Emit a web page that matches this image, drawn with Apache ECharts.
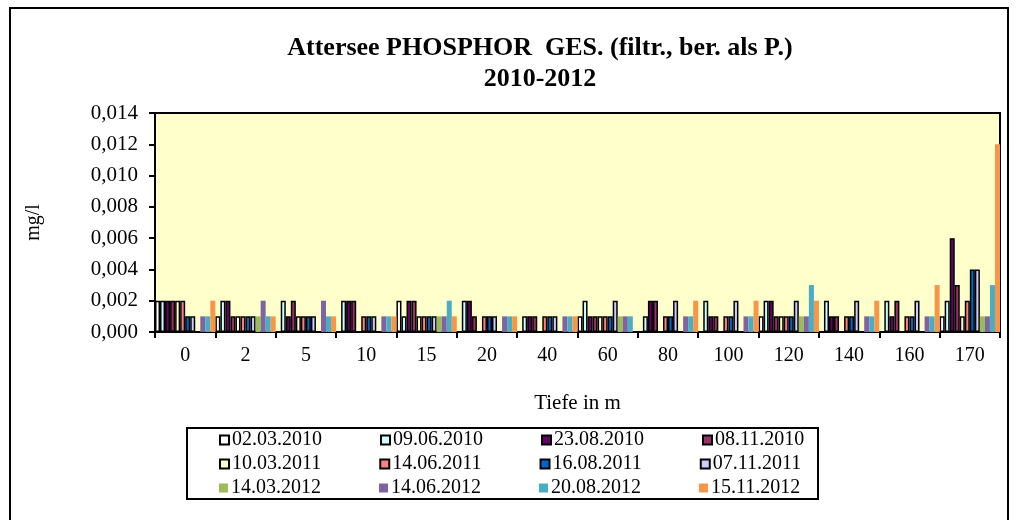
<!DOCTYPE html>
<html lang="de">
<head>
    <meta charset="UTF-8">
    <title>Attersee Phosphor</title>
    <script type="text/javascript" src="https://cdn.jsdelivr.net/npm/echarts@6/dist/echarts.min.js"></script>
    <style>
        body { margin: 0; background: #fff; }
    </style>
</head>
<body>
    <div id="main" style="width: 1017px;height:520px;"></div>
    <script type="text/javascript">
        // Tiefen (Kategorien)
        var tiefen = ['0', '2', '5', '10', '15', '20', '40', '60', '80', '100', '120', '140', '160', '170'];
        var termine = ['02.03.2010', '09.06.2010', '23.08.2010', '08.11.2010',
                       '10.03.2011', '14.06.2011', '16.08.2011', '07.11.2011',
                       '14.03.2012', '14.06.2012', '20.08.2012', '15.11.2012'];
        var farben = ['#FFFFFF', '#CCFFFF', '#660066', '#993366',
                      '#FFFFCC', '#FF8080', '#0066CC', '#CCCCFF',
                      '#9BBB59', '#8064A2', '#4BACC6', '#F79646'];
        var yTicks = [0, 0.002, 0.004, 0.006, 0.008, 0.010, 0.012, 0.014];

        // Messwerte mg/l, null = kein Wert
        var w_02032010 = [0.002, 0.001, null, null, 0.002, null, null, 0.001, null, null, 0.001, null, null, 0.001];
        var w_09062010 = [0.002, 0.002, 0.002, 0.002, 0.001, 0.002, 0.001, 0.002, 0.001, 0.002, 0.002, 0.002, 0.002, 0.002];
        var w_23082010 = [0.002, 0.002, 0.001, 0.002, 0.002, 0.002, 0.001, 0.001, 0.002, 0.001, 0.002, 0.001, 0.001, 0.006];
        var w_08112010 = [0.002, 0.001, 0.002, 0.002, 0.002, 0.001, 0.001, 0.001, 0.002, 0.001, 0.001, 0.001, 0.002, 0.003];
        var w_10032011 = [0.002, 0.001, 0.001, null, 0.001, null, null, 0.001, null, null, 0.001, null, null, 0.001];
        var w_14062011 = [0.002, 0.001, 0.001, 0.001, 0.001, 0.001, 0.001, 0.001, 0.001, 0.001, 0.001, 0.001, 0.001, 0.002];
        var w_16082011 = [0.001, 0.001, 0.001, 0.001, 0.001, 0.001, 0.001, 0.001, 0.001, 0.001, 0.001, 0.001, 0.001, 0.004];
        var w_07112011 = [0.001, 0.001, 0.001, 0.001, 0.001, 0.001, 0.001, 0.002, 0.002, 0.002, 0.002, 0.002, 0.002, 0.004];
        var w_14032012 = [null, 0.001, null, null, 0.001, null, null, 0.001, null, null, 0.001, null, null, 0.001];
        var w_14062012 = [0.001, 0.002, 0.002, 0.001, 0.001, 0.001, 0.001, 0.001, 0.001, 0.001, 0.001, 0.001, 0.001, 0.001];
        var w_20082012 = [0.001, 0.001, 0.001, 0.001, 0.002, 0.001, 0.001, 0.001, 0.001, 0.001, 0.003, 0.001, 0.001, 0.003];
        var w_15112012 = [0.002, 0.001, 0.001, 0.001, 0.001, 0.001, 0.001, null, 0.002, 0.002, 0.002, 0.002, 0.003, 0.012];

        var werte = [w_02032010, w_09062010, w_23082010, w_08112010,
                     w_10032011, w_14062011, w_16082011, w_07112011,
                     w_14032012, w_14062012, w_20082012, w_15112012];

        var schrift = '"Liberation Serif", "Times New Roman", serif';

        var serien = [];
        for (var i = 0; i < termine.length; i++) {
            var mitRand = i < 8; // die ersten 8 Serien haben schwarzen Rand
            serien.push({
                name: termine[i],
                type: 'bar',
                barGap: '0%',
                barCategoryGap: '0%',
                data: werte[i],
                itemStyle: {
                    color: farben[i],
                    borderColor: mitRand ? '#000' : farben[i],
                    borderWidth: mitRand ? 1.5 : 0
                }
            });
        }

        // drei Legendenzeilen
        var legenden = [];
        for (var r = 0; r < 3; r++) {
            legenden.push({
                data: termine.slice(r * 4, r * 4 + 4),
                left: 219,
                top: 430 + r * 24,
                orient: 'horizontal',
                padding: 0,
                itemWidth: 9,
                itemHeight: 9,
                itemGap: 58,
                icon: 'rect',
                selectedMode: false,
                textStyle: { fontFamily: schrift, fontSize: 20, color: '#000', padding: [0, 0, 0, -2] }
            });
        }

        var chart = echarts.init(document.getElementById('main'));
        chart.setOption({
            animation: false,
            backgroundColor: '#fff',
            title: {
                text: 'Attersee PHOSPHOR  GES. (filtr., ber. als P.)\n2010-2012',
                left: 540,
                top: 33,
                textAlign: 'center',
                padding: 0,
                textStyle: { fontFamily: schrift, fontSize: 26, fontWeight: 'bold', color: '#000', lineHeight: 31 }
            },
            legend: legenden,
            grid: {
                left: 155,
                right: 17,
                top: 113,
                bottom: 188,
                show: true,
                backgroundColor: '#FFFFCC',
                borderColor: '#000',
                borderWidth: 2
            },
            xAxis: {
                type: 'category',
                data: tiefen,
                name: 'Tiefe in m',
                nameLocation: 'middle',
                nameGap: 61,
                nameTextStyle: { fontFamily: schrift, fontSize: 21, color: '#000' },
                axisLine: { lineStyle: { color: '#000', width: 2 } },
                axisTick: { show: true, length: 6, interval: 0, lineStyle: { color: '#000', width: 2 } },
                axisLabel: { fontFamily: schrift, fontSize: 20, color: '#000', margin: 14, interval: 0 }
            },
            yAxis: {
                type: 'value',
                min: yTicks[0],
                max: yTicks[yTicks.length - 1],
                interval: 0.002,
                name: 'mg/l',
                nameLocation: 'middle',
                nameRotate: 90,
                nameGap: 111,
                nameTextStyle: { fontFamily: schrift, fontSize: 20, color: '#000' },
                axisLine: { show: true, lineStyle: { color: '#000', width: 2 } },
                axisTick: { show: true, length: 6, lineStyle: { color: '#000', width: 2 } },
                splitLine: { show: false },
                axisLabel: {
                    fontFamily: schrift, fontSize: 21, color: '#000', margin: 17,
                    formatter: function (v) { return v.toFixed(3).replace('.', ','); }
                }
            },
            graphic: [
                {   // äußerer Rahmen
                    type: 'rect',
                    shape: { x: 10, y: 8, width: 998, height: 530 },
                    style: { fill: 'none', stroke: '#000', lineWidth: 2 },
                    silent: true
                },
                {   // Legendenrahmen
                    type: 'rect',
                    shape: { x: 187, y: 428, width: 631, height: 71 },
                    style: { fill: 'none', stroke: '#000', lineWidth: 2 },
                    silent: true
                }
            ],
            series: serien
        });
    </script>
</body>
</html>
